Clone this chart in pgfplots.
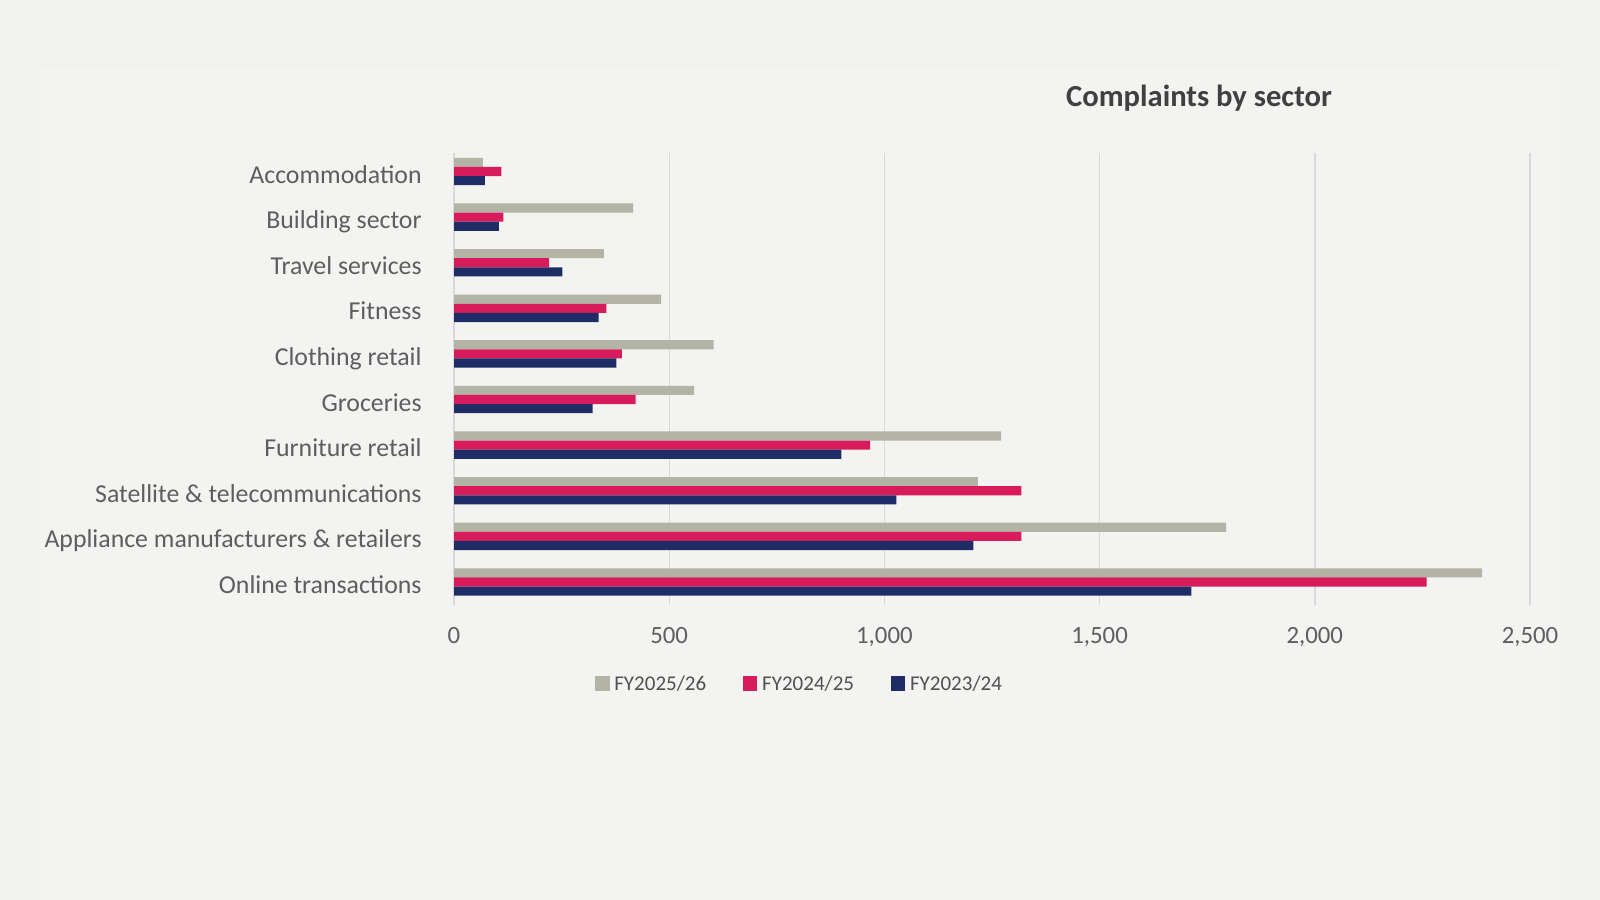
\documentclass[border=0pt]{standalone}
\usepackage{pgfplots}
\pgfplotsset{compat=1.18}
\usepackage{pgfplotstable}
\usepackage{fontspec}
\setmainfont{Carlito}
\definecolor{bgout}{HTML}{F1F1EF}
\definecolor{bgin}{HTML}{F3F3F1}
\definecolor{cgray}{HTML}{B3B3A6}
\definecolor{cred}{HTML}{D81B5A}
\definecolor{cnavy}{HTML}{1F2D66}
\definecolor{grid}{HTML}{D9D9D9}
\definecolor{labtxt}{HTML}{5E5E5E}
\definecolor{legtxt}{HTML}{505050}
\definecolor{titletxt}{HTML}{404040}
\pgfplotstableread{
idx fy2526 fy2425 fy2324
0 2389 2260 1713
1 1794 1318 1207
2 1217 1318 1028
3 1271 967 900
4 558 422 322
5 603 390 377
6 481 354 336
7 348 221 252
8 416 115 104
9 67 110 72
}\datatable
\begin{document}
\begin{tikzpicture}
\fill[bgout] (0,0) rectangle (800bp,450bp);
\fill[bgin] (20bp,0) rectangle (780bp,416bp);
\node[anchor=base, font=\fontsize{15.3bp}{18bp}\selectfont\bfseries, text=titletxt, inner sep=0pt] at (599.5bp,396.65bp) {Complaints by sector};
\begin{axis}[
  at={(227bp,147.6bp)}, anchor=south west,
  scale only axis, width=538bp, height=226bp,
  xmin=0, xmax=2500, ymin=-0.5, ymax=9.41,
  axis line style={draw=none},
  xtick={0,500,...,2500},
  ytick={0,...,9},
  yticklabels={Online transactions,Appliance manufacturers \& retailers,Satellite \& telecommunications,Furniture retail,Groceries,Clothing retail,Fitness,Travel services,Building sector,Accommodation},
  major tick length=0pt,
  xmajorgrids, ymajorgrids=false,
  major x grid style={draw=grid, line width=0.7bp},
  /pgf/number format/assume math mode=true,
  /pgf/number format/1000 sep={,},
  scaled x ticks=false,
  xticklabel style={anchor=base, inner sep=0pt, yshift=-19.6bp, font=\fontsize{12.4bp}{15bp}\selectfont, text=labtxt},
  yticklabel style={anchor=base east, inner sep=0pt, xshift=-16bp, yshift=-5.8bp, font=\fontsize{12.9bp}{16bp}\selectfont, text=labtxt},
  xbar, bar width=0.2,
  legend columns=3,
  legend image code/.code={\fill[#1] (0bp,-3bp) rectangle (7.2bp,4.2bp);},
  legend style={at={(axis description cs:0.3202,-0.1766)}, anchor=center, draw=none, fill=none,
    font=\fontsize{10.5bp}{13bp}\selectfont, text=legtxt, inner sep=0pt,
    nodes={inner sep=0pt},
    /tikz/every odd column/.append style={column sep=2.4bp},
    /tikz/every even column/.append style={column sep=18.4bp}},
]
\addplot[fill=cgray, draw=none, bar shift=0.2] table[x=fy2526, y=idx] {\datatable};
\addlegendentry{FY2025/26}
\addplot[fill=cred, draw=none, bar shift=0] table[x=fy2425, y=idx] {\datatable};
\addlegendentry{FY2024/25}
\addplot[fill=cnavy, draw=none, bar shift=-0.2] table[x=fy2324, y=idx] {\datatable};
\addlegendentry{FY2023/24}
\end{axis}
\pgfresetboundingbox
\path[use as bounding box] (0,0) rectangle (800bp,450bp);
\end{tikzpicture}
\end{document}
